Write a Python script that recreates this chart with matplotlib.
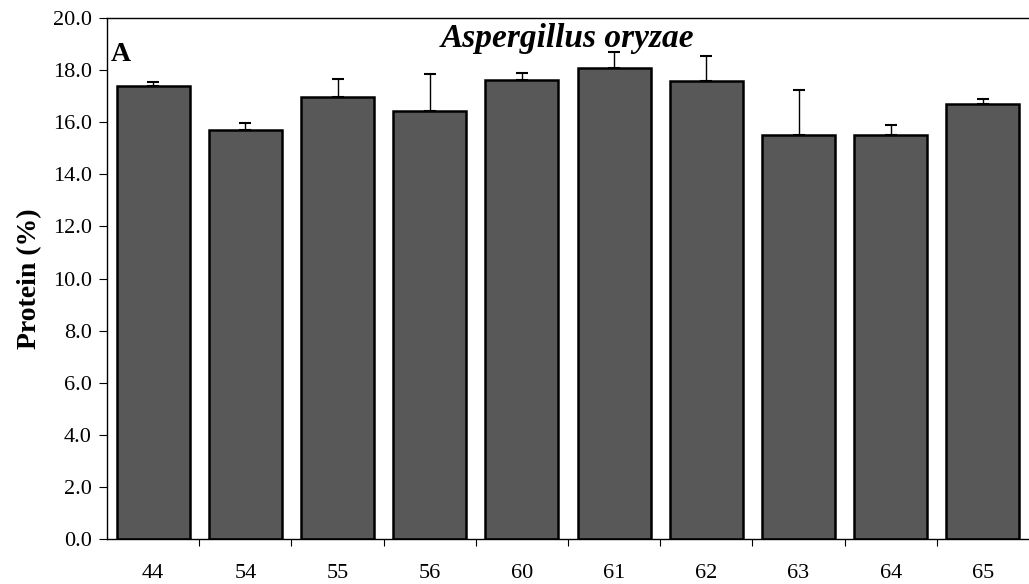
import matplotlib
matplotlib.use("Agg")
import matplotlib.pyplot as plt
import numpy as np

categories = ["44", "54", "55", "56", "60", "61", "62", "63", "64", "65"]
protein = [17.39, 15.71, 16.98, 16.42, 17.62, 18.09, 17.59, 15.52, 15.52, 16.70]
err_upper = [0.16, 0.26, 0.68, 1.43, 0.28, 0.59, 0.94, 1.73, 0.36, 0.18]
yticks = [0, 2, 4, 6, 8, 10, 12, 14, 16, 18, 20]

plt.rcParams['font.family'] = ['Liberation Serif', 'DejaVu Serif']

fig = plt.figure(figsize=(10.29, 5.84), dpi=100)
ax = fig.add_axes([0.104, 0.077, 0.896, 0.892])

x = np.arange(len(categories))
ax.bar(x, protein, width=0.79, color='#585858', edgecolor='black', linewidth=1.8, zorder=2)
ax.errorbar(x, protein, yerr=[np.zeros(len(err_upper)), err_upper], fmt='none',
            ecolor='black', elinewidth=1.0, capsize=4, capthick=1.5, zorder=3)

ax.set_xlim(-0.5, 9.5)
ax.set_ylim(0, 20)
ax.set_yticks(yticks)
ax.set_yticklabels([f"{v:.1f}" for v in yticks], fontsize=16)
ax.set_xticks(x)
ax.set_xticklabels(categories, fontsize=16)
ax.tick_params(axis='x', which='major', length=0, pad=18)
ax.set_xticks(x[:-1] + 0.5, minor=True)
ax.tick_params(axis='x', which='minor', length=5, direction='out', width=0.8)
ax.tick_params(axis='y', length=6, width=0.8, direction='out', pad=5)

ax.spines['right'].set_visible(False)
for s in ['left', 'bottom', 'top']:
    ax.spines[s].set_linewidth(1.0)

ax.set_ylabel("Protein (%)", fontsize=20, fontweight='bold', labelpad=8)
ax.text(0.5, 0.99, "Aspergillus oryzae", transform=ax.transAxes, ha='center', va='top',
        fontsize=24, fontweight='bold', fontstyle='italic')
ax.text(0.004, 0.955, "A", transform=ax.transAxes, ha='left', va='top',
        fontsize=20, fontweight='bold')

fig.savefig("out.png", dpi=100)
